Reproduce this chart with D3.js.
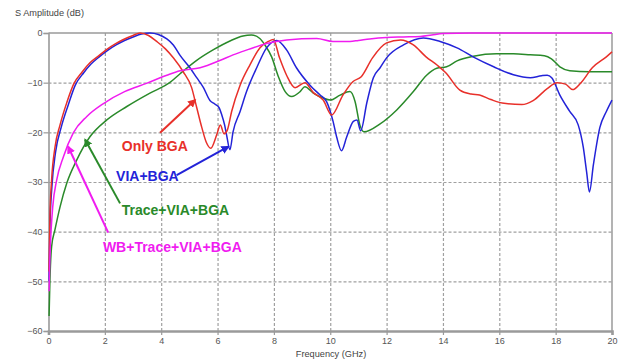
<!DOCTYPE html>
<html>
<head>
<meta charset="utf-8">
<script src="https://cdn.jsdelivr.net/npm/d3@7"></script>
<style>
  html, body { margin: 0; padding: 0; background: #fff; }
  svg { display: block; font-family: "Liberation Sans", Arial, sans-serif; }
</style>
</head>
<body>
<svg id="chart" width="624" height="360"></svg>
<script>
// Axis ticks
const xTicks = [0, 2, 4, 6, 8, 10, 12, 14, 16, 18, 20];
const yTicks = [0, -10, -20, -30, -40, -50, -60];

// Only BGA
const onlyBgaFreq = [0.02, 0.05, 0.11, 0.23, 0.41, 0.65, 0.9, 1.2, 1.47, 1.8, 2.07, 2.4, 2.66, 3.0, 3.25, 3.55, 3.84, 4.15, 4.43, 4.78, 5.08, 5.26, 5.44, 5.6, 5.76, 5.97, 6.1, 6.23, 6.35, 6.5, 6.8, 7.15, 7.5, 7.8, 7.98, 8.2, 8.45, 8.75, 9.1, 9.4, 9.75, 10.05, 10.45, 10.8, 11.1, 11.5, 12.0, 12.5, 12.95, 13.4, 13.8, 14.1, 14.6, 15.0, 15.3, 15.7, 16.1, 16.8, 17.2, 17.7, 18.05, 18.35, 18.6, 18.9, 19.3, 19.8, 20];
const onlyBgaDb   = [-48, -37, -29.6, -23, -18.5, -14, -10.2, -7.8, -6, -4.5, -3.3, -2.1, -1.3, -0.5, 0, -0.5, -1.7, -3.2, -5, -7.8, -11, -15, -19, -22, -23.2, -20.5, -18.5, -20.3, -19.5, -15.8, -10.5, -6.4, -3, -1.7, -1.3, -5, -8.5, -11, -10, -12, -13.5, -16.5, -12.5, -9.8, -8.8, -5, -2, -1.4, -2.4, -4.8, -6.5, -8, -11.5, -12.3, -12.5, -13.4, -14.1, -14.4, -13.6, -11.2, -10, -10.3, -11.4, -10, -7, -4.8, -3.8];

// VIA+BGA
const viaBgaFreq = [0.02, 0.05, 0.12, 0.25, 0.45, 0.7, 0.95, 1.25, 1.5, 1.8, 2.1, 2.4, 2.7, 3.0, 3.3, 3.6, 3.9, 4.2, 4.43, 4.67, 5.02, 5.26, 5.5, 5.73, 5.9, 6.05, 6.15, 6.25, 6.32, 6.44, 6.55, 6.8, 7.03, 7.39, 7.74, 8.1, 8.45, 8.8, 9.28, 9.64, 9.87, 10.1, 10.23, 10.4, 10.58, 10.82, 10.95, 11.08, 11.3, 11.53, 11.77, 12.0, 12.6, 13.3, 13.9, 14.5, 15.07, 15.8, 16.5, 17.1, 17.5, 17.7, 17.86, 18.15, 18.5, 18.8, 18.98, 19.1, 19.2, 19.34, 19.57, 19.8, 20];
const viaBgaDb   = [-50, -39, -31, -24, -19, -14.5, -10.5, -8, -6.3, -4.8, -3.5, -2.4, -1.5, -0.8, -0.2, 0, -0.3, -1.2, -2.4, -4.5, -7, -9, -11, -13.6, -14.3, -15, -16.5, -18.5, -20.5, -23.5, -19.9, -15.8, -11.8, -7, -3, -1.5, -3.4, -7, -10.5, -12.5, -13.8, -17.8, -21, -23.7, -21, -17.8, -17.5, -19.7, -14, -9, -7, -5, -2.4, -1, -1.7, -3, -4.8, -6.8, -8.4, -9, -8.6, -8.5, -9, -12.5, -15.8, -18.5, -23, -28, -32, -26.5, -19, -15.8, -13.5];

// Trace+VIA+BGA
const traceViaBgaFreq = [0.02, 0.05, 0.11, 0.23, 0.41, 0.65, 1.0, 1.47, 2.07, 2.78, 3.6, 4.3, 4.67, 5.26, 5.84, 6.44, 6.9, 7.2, 7.5, 7.68, 7.92, 8.16, 8.4, 8.63, 8.93, 9.1, 9.4, 9.75, 10.0, 10.35, 10.7, 10.88, 11.05, 11.2, 11.77, 12.36, 12.95, 13.42, 13.78, 14.13, 14.5, 15.08, 15.9, 16.5, 17.1, 17.6, 17.85, 18.15, 18.5, 19.2, 20];
const traceViaBgaDb   = [-57, -50, -43, -39.6, -35, -30.2, -25.6, -20.9, -17.5, -14.8, -12.1, -10, -8.2, -5.5, -3.4, -1.6, -0.6, -0.4, -1.1, -2.4, -4.8, -8.8, -11.8, -12.8, -11.8, -10.8, -12.1, -13.1, -13.5, -12.5, -11.8, -13.8, -18.5, -19.9, -18.3, -15.5, -11.8, -8.5, -7.1, -6.8, -5.6, -4.7, -4.2, -4.2, -4.4, -4.6, -5.2, -6.8, -7.6, -7.8, -7.8];

// WB+Trace+VIA+BGA
const wbTraceViaBgaFreq = [0.02, 0.05, 0.09, 0.15, 0.29, 0.53, 0.88, 1.36, 1.95, 2.7, 3.5, 4.2, 4.67, 5.38, 6.1, 6.55, 7.1, 7.74, 8.45, 9.52, 10.1, 10.4, 10.7, 11.0, 11.4, 12.0, 12.6, 13.2, 13.6, 14.0, 15.0, 17.1, 20];
const wbTraceViaBgaDb   = [-52, -45, -40, -35, -29.6, -24.9, -20.1, -16.8, -14.2, -11.8, -10.1, -8.5, -7.6, -7, -5.5, -4.4, -3.3, -2.1, -1.4, -1.1, -1.7, -1.7, -1.7, -1.5, -1.2, -0.9, -0.8, -0.7, -0.4, -0.1, 0, 0, 0];

const seriesNames = ["Only BGA", "VIA+BGA", "Trace+VIA+BGA", "WB+Trace+VIA+BGA"];

// Callout labels: text anchor, arrow start and arrow tip, all in (GHz, dB)
const labelAt  = [[2.6, -23.8], [2.4, -29.7], [2.6, -36.7], [1.93, -44.1]];
const arrowFrom = [[3.96, -20.1], [4.55, -28.6], [2.54, -34.3], [2.12, -40.2]];
const arrowTo   = [[5.2, -13.5], [6.38, -22.9], [1.3, -21.5], [0.7, -22.9]];

const colors = ["#e8302a", "#2323d8", "#2a8a2a", "#f01cf0"];

const svg = d3.select("#chart");
const W = 624, H = 360;
const x = d3.scaleLinear().domain([0, 20]).range([48.5, 612]);
const y = d3.scaleLinear().domain([-60, 0]).range([331, 33]);

const gridColor = "#a0a0a0";
const frameColor = "#9a9a9a";
const textColor = "#555";

// Grid lines (dashed)
svg.append("g")
  .attr("transform", `translate(0,${y(-60)})`)
  .call(d3.axisBottom(x).tickValues(xTicks.slice(1, -1)).tickSize(-(y(-60) - y(0))).tickFormat(""))
  .call(g => g.select(".domain").remove())
  .call(g => g.selectAll("line").attr("stroke", gridColor).attr("stroke-dasharray", "3,2").attr("stroke-width", 1.2));

svg.append("g")
  .attr("transform", `translate(${x(0)},0)`)
  .call(d3.axisLeft(y).tickValues(yTicks.slice(1, -1)).tickSize(-(x(20) - x(0))).tickFormat(""))
  .call(g => g.select(".domain").remove())
  .call(g => g.selectAll("line").attr("stroke", gridColor).attr("stroke-dasharray", "3,2").attr("stroke-width", 1.2));

// Frame
svg.append("line").attr("x1", x(0)).attr("x2", x(20)).attr("y1", y(0)).attr("y2", y(0))
  .attr("stroke", frameColor).attr("stroke-width", 1.5);
svg.append("line").attr("x1", x(20)).attr("x2", x(20)).attr("y1", y(0)).attr("y2", y(-60))
  .attr("stroke", frameColor).attr("stroke-width", 1.5);

// Axes with ticks and labels
const xAxis = svg.append("g")
  .attr("transform", `translate(0,${y(-60)})`)
  .call(d3.axisBottom(x).tickValues(xTicks).tickSize(4).tickPadding(3));
xAxis.select(".domain").attr("stroke", frameColor).attr("stroke-width", 2.6);
xAxis.selectAll("line").attr("stroke", frameColor).attr("stroke-width", 1.2);
xAxis.selectAll("text").attr("fill", textColor).attr("font-size", 9)
  .attr("font-family", "'Liberation Sans', Arial, sans-serif");

const yAxis = svg.append("g")
  .attr("transform", `translate(${x(0)},0)`)
  .call(d3.axisLeft(y).tickValues(yTicks).tickSize(5).tickPadding(1));
yAxis.select(".domain").attr("stroke", frameColor).attr("stroke-width", 1.6);
yAxis.selectAll("line").attr("stroke", frameColor).attr("stroke-width", 1.2);
yAxis.selectAll("text").attr("fill", textColor).attr("font-size", 9)
  .attr("font-family", "'Liberation Sans', Arial, sans-serif");

// Axis titles
svg.append("text").attr("x", 15).attr("y", 16).attr("font-size", 9.2).attr("fill", "#444")
  .text("S Amplitude (dB)");
svg.append("text").attr("x", 331).attr("y", 357).attr("text-anchor", "middle")
  .attr("font-size", 9.2).attr("fill", "#444").text("Frequency (GHz)");

// Curves
const freqs = [onlyBgaFreq, viaBgaFreq, traceViaBgaFreq, wbTraceViaBgaFreq];
const dbs = [onlyBgaDb, viaBgaDb, traceViaBgaDb, wbTraceViaBgaDb];
const line = d3.line().x(d => x(d[0])).y(d => y(d[1])).curve(d3.curveMonotoneX);

const drawOrder = [2, 1, 0, 3];
drawOrder.forEach(i => {
  const pts = freqs[i].map((f, k) => [f, dbs[i][k]]);
  svg.append("path")
    .datum(pts)
    .attr("d", line)
    .attr("fill", "none")
    .attr("stroke", colors[i])
    .attr("stroke-width", 1.5)
    .attr("stroke-linejoin", "round");
});

// Arrowhead markers
const defs = svg.append("defs");
colors.forEach((c, i) => {
  defs.append("marker")
    .attr("id", "arrow" + i)
    .attr("viewBox", "0 0 10 10")
    .attr("refX", 8).attr("refY", 5)
    .attr("markerWidth", 4.2).attr("markerHeight", 4.2)
    .attr("markerUnits", "strokeWidth")
    .attr("orient", "auto")
    .append("path").attr("d", "M0,0 L10,5 L0,10 Z").attr("fill", c);
});

// Callouts
seriesNames.forEach((name, i) => {
  svg.append("line")
    .attr("x1", x(arrowFrom[i][0])).attr("y1", y(arrowFrom[i][1]))
    .attr("x2", x(arrowTo[i][0])).attr("y2", y(arrowTo[i][1]))
    .attr("stroke", colors[i]).attr("stroke-width", 2)
    .attr("marker-end", `url(#arrow${i})`);
  svg.append("text")
    .attr("x", x(labelAt[i][0])).attr("y", y(labelAt[i][1]))
    .attr("font-size", 14).attr("font-weight", "bold")
    .attr("fill", colors[i])
    .text(name);
});
</script>
</body>
</html>
